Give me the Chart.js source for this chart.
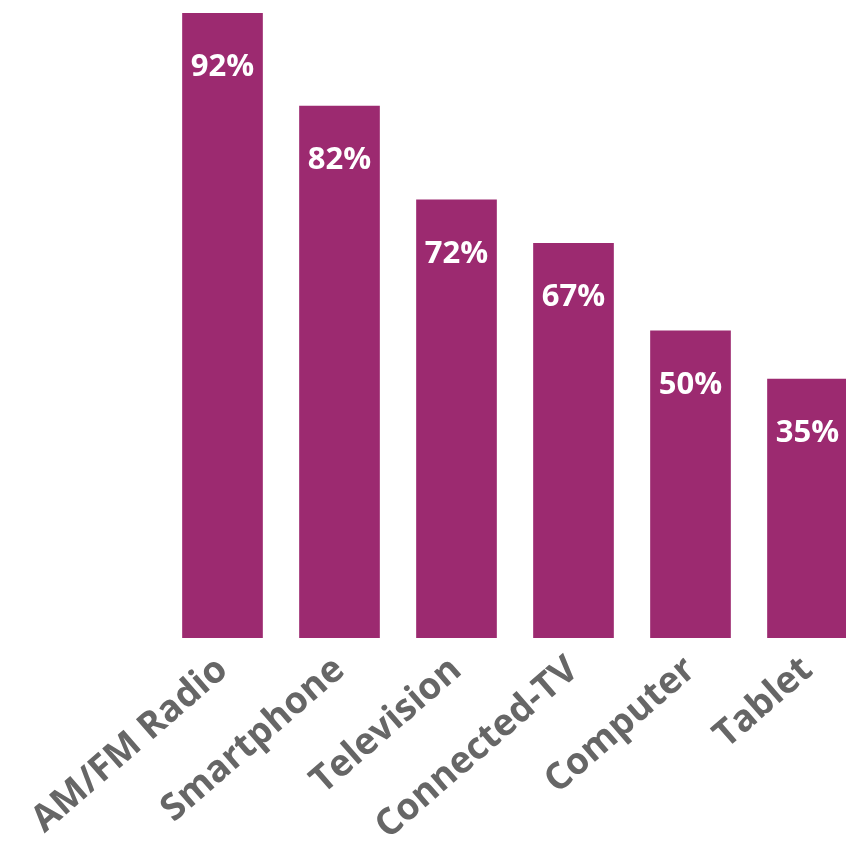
<!DOCTYPE html>
<html lang="en">
<head>
    <meta charset="UTF-8">
    <script src="https://cdn.jsdelivr.net/npm/chart.js@4.4.0/dist/chart.umd.min.js"></script>
    <title>Devices</title>
    <style>
        html, body { margin: 0; padding: 0; background: #fff; overflow: hidden; }
        #wrap { width: 866px; height: 850px; }
    </style>
</head>
<body>
    <div id="wrap"><canvas id="chart"></canvas></div>
    <script>

        const devices = ['AM/FM Radio', 'Smartphone', 'Television', 'Connected-TV', 'Computer', 'Tablet'];
        // bar heights as drawn (the picture is not to scale with its labels)
        const barValues = [92, 78.3, 64.5, 58.1, 45.2, 38.1];
        const valueLabels = ['92%', '82%', '72%', '67%', '50%', '35%'];

        const barLabels = {
            id: 'barLabels',
            afterDatasetsDraw(chart) {
                const ctx = chart.ctx;
                const meta = chart.getDatasetMeta(0);
                ctx.save();
                ctx.fillStyle = '#ffffff';
                ctx.font = 'bold 31px "Open Sans"';
                ctx.textAlign = 'center';
                ctx.textBaseline = 'middle';
                meta.data.forEach((bar, i) => {
                    ctx.fillText(valueLabels[i], bar.x, bar.y + 54);
                });
                ctx.restore();
            }
        };

        const ctx = document.getElementById('chart').getContext('2d');
        const chart = new Chart(ctx, {
            type: 'bar',
            data: {
                labels: devices,
                datasets: [{
                    data: barValues,
                    backgroundColor: '#9c2a70',
                    barThickness: 80
                }]
            },
            options: {
                responsive: true,
                maintainAspectRatio: false,
                animation: false,
                layout: {
                    padding: { top: 13, left: 164, right: 0, bottom: 0 }
                },
                plugins: {
                    legend: { display: false },
                    tooltip: { enabled: false }
                },
                scales: {
                    x: {
                        grid: { display: false, drawTicks: false },
                        border: { display: false },
                        ticks: {
                            color: '#666666',
                            font: { family: 'Open Sans', size: 37, weight: 'bold' },
                            minRotation: 41,
                            maxRotation: 41,
                            padding: 10
                        },
                        afterFit(scale) {
                            scale.height = 212;
                        }
                    },
                    y: {
                        display: false,
                        min: 0,
                        max: 92
                    }
                }
            },
            plugins: [barLabels]
        });

    </script>
</body>
</html>
